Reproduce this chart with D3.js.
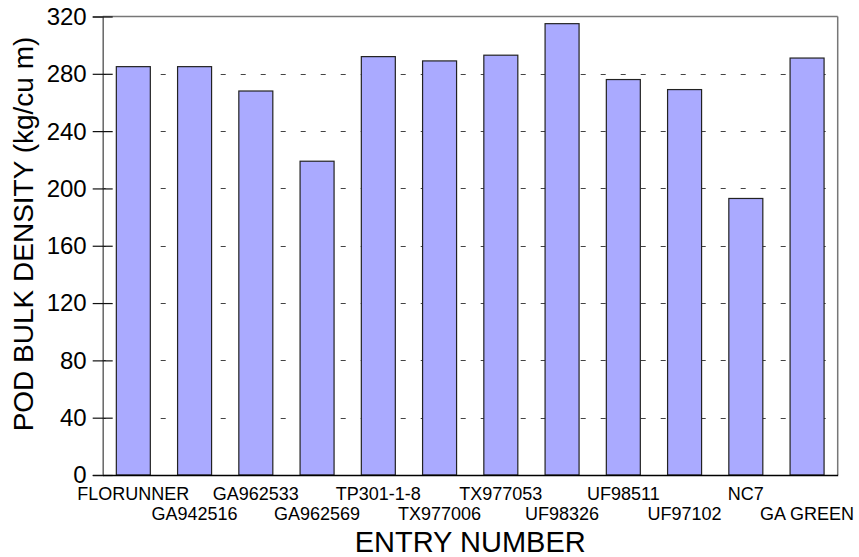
<!DOCTYPE html>
<html>
<head>
<meta charset="utf-8">
<script src="https://cdn.jsdelivr.net/npm/d3@7"></script>
<style>
  html, body { margin: 0; padding: 0; background: #fff; }
  svg { display: block; font-family: "Liberation Sans", Arial, sans-serif; }
</style>
</head>
<body>
<svg id="chart" width="859" height="557"></svg>
<script>
const categories = ["FLORUNNER", "GA942516", "GA962533", "GA962569", "TP301-1-8", "TX977006",
                    "TX977053", "UF98326", "UF98511", "UF97102", "NC7", "GA GREEN"];
const values = [285, 285, 268, 219, 292, 289, 293, 315, 276, 269, 193, 291];
const yTicks = [0, 40, 80, 120, 160, 200, 240, 280, 320];
const yTitle = "POD BULK DENSITY (kg/cu m)";
const xTitle = "ENTRY NUMBER";

const svg = d3.select("#chart");
const L = 102.7, R = 837.7, T = 16.5, B = 475;

const x = d3.scaleBand().domain(categories).range([L, R]).paddingInner(0.445).paddingOuter(0.2225);
const y = d3.scaleLinear().domain([0, 320]).range([B, T]);

// gridlines
svg.append("g").selectAll("line")
  .data(yTicks.filter(d => d > 0 && d < 320))
  .join("line")
  .attr("x1", L).attr("x2", R)
  .attr("y1", d => Math.round(y(d)) + 0.5).attr("y2", d => Math.round(y(d)) + 0.5)
  .attr("stroke", "#444").attr("stroke-width", 1.2)
  .attr("stroke-dasharray", "5,15").attr("stroke-dashoffset", 2);

// bars
svg.append("g").selectAll("rect")
  .data(values)
  .join("rect")
  .attr("x", (d, i) => x(categories[i]))
  .attr("y", d => y(d))
  .attr("width", x.bandwidth())
  .attr("height", d => y(0) - y(d))
  .attr("fill", "#aaaaff")
  .attr("stroke", "#222")
  .attr("stroke-width", 1.2);

// frame (top, right)
svg.append("line").attr("x1", L).attr("x2", R).attr("y1", T).attr("y2", T)
  .attr("stroke", "#777").attr("stroke-width", 1.5);
svg.append("line").attr("x1", R).attr("x2", R).attr("y1", T).attr("y2", B)
  .attr("stroke", "#777").attr("stroke-width", 1.5);

// y axis
const yAxis = d3.axisLeft(y).tickValues(yTicks).tickSize(10).tickPadding(6).tickFormat(d3.format("d"));
const gy = svg.append("g").attr("transform", `translate(${L},0)`).call(yAxis);
gy.select(".domain").attr("stroke", "#666").attr("stroke-width", 1.5);
gy.selectAll(".tick line").attr("x1", 10).attr("x2", -10).attr("stroke", "#111").attr("stroke-width", 1.2);
gy.selectAll(".tick text").attr("font-size", 24).attr("fill", "#000")
  .attr("font-family", "Liberation Sans, Arial, sans-serif").attr("x", -16).attr("dy", "0.33em");

// x axis baseline
const xAxis = d3.axisBottom(x).tickSize(0).tickFormat("");
const gx = svg.append("g").attr("transform", `translate(0,${B})`).call(xAxis);
gx.select(".domain").attr("stroke", "#000").attr("stroke-width", 1.5);

// category labels, staggered
svg.append("g").selectAll("text")
  .data(categories)
  .join("text")
  .attr("x", d => x(d) + x.bandwidth() / 2)
  .attr("y", (d, i) => i % 2 === 0 ? 500 : 520)
  .attr("text-anchor", "middle")
  .attr("font-size", 18)
  .attr("fill", "#000")
  .text(d => d);

// axis titles
svg.append("text")
  .attr("x", (L + R) / 2).attr("y", 552)
  .attr("text-anchor", "middle").attr("font-size", 29).attr("fill", "#000")
  .text(xTitle);

svg.append("text")
  .attr("transform", "translate(33,234) rotate(-90)")
  .attr("text-anchor", "middle").attr("font-size", 28).attr("fill", "#000")
  .text(yTitle);
</script>
</body>
</html>
